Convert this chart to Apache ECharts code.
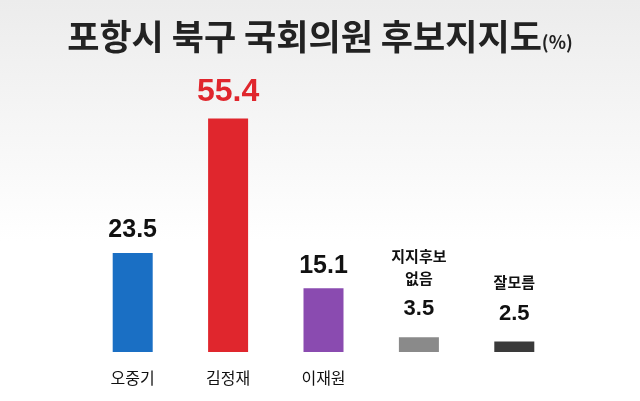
<!DOCTYPE html>
<html><head><meta charset="utf-8">
<script src="https://cdn.jsdelivr.net/npm/echarts@6/dist/echarts.min.js"></script>
<style>html,body{margin:0;padding:0;background:linear-gradient(#ececec,#ffffff 60%);}#c{width:640px;height:401px;}</style>
</head><body><div id="c"></div>
<script>
const categories = ['오중기','김정재','이재원','지지후보\n없음','잘모름'];
const values = [23.5,55.4,15.1,3.5,2.5];
const colors = ['#1a6fc4','#e0262d','#8a4bb0','#8a8a8a','#3a3a3a'];
const chart = echarts.init(document.getElementById('c'));
const F = '"Noto Sans CJK KR", sans-serif';
chart.setOption({
  title:{text:'포항시 북구 국회의원 후보지지도{s|(%)}',left:'center',top:14,
    textStyle:{fontFamily:F,fontSize:35,fontWeight:'bold',color:'#222',
      rich:{s:{fontFamily:F,fontSize:18,fontWeight:'bold',color:'#222',padding:[12,0,0,0]}}}},
  grid:{left:85,right:78,top:99,bottom:49},
  xAxis:{type:'category',data:categories,axisLine:{show:false},axisTick:{show:false},
    axisLabel:{fontFamily:F,fontSize:16,color:'#111',margin:18,
      formatter:(v,i)=> i>=3?'':v}},
  yAxis:{type:'value',min:0,max:60,show:false},
  series:[{type:'bar',barWidth:40,
    data:values.map((v,i)=>({value:v,itemStyle:{color:colors[i]},
      label:{show:true,position:'top',distance:i>=3?8:10,
        fontFamily:'"Liberation Sans", sans-serif',fontWeight:'bold',
        fontSize:i==1?32:25,color:i==1?'#e0262d':'#111',
        formatter:i>=3?'{n|'+categories[i]+'}\n{v|'+v+'}':String(v),
        rich:{n:{fontFamily:F,fontSize:15,color:'#111',lineHeight:22,align:'center'},
              v:{fontFamily:'"Liberation Sans", sans-serif',fontSize:22,fontWeight:'bold',color:'#111',lineHeight:40,align:'center'}}}}))}]
});
</script></body></html>
